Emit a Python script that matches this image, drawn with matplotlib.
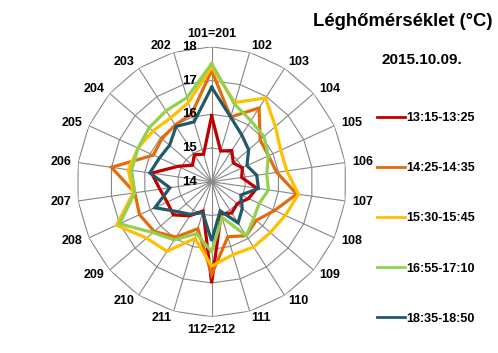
import numpy as np
import matplotlib
matplotlib.use("Agg")
import matplotlib.pyplot as plt
from matplotlib.lines import Line2D

plt.rcParams['font.family'] = ['Liberation Sans', 'DejaVu Sans']
plt.rcParams['font.weight'] = 'bold'

cats = ['101=201', '102', '103', '104', '105', '106', '107', '108', '109', '110', '111',
        '112=212', '211', '210', '209', '208', '207', '206', '205', '204', '203', '202']

labels = ['13:15-13:25', '14:25-14:35', '15:30-15:45', '16:55-17:10', '18:35-18:50']
colors = ['#C00000', '#E46C0A', '#FFC000', '#92D050', '#215968']

red = [15.95, 14.95, 15.1, 14.85, 15.0, 14.9, 15.35, 15.2, 15.0, 15.1, 15.0,
       17.0, 14.9, 15.2, 15.5, 15.45, 15.55, 15.8, 15.1, 14.75, 14.95, 14.85]
orange = [17.3, 16.0, 16.6, 15.9, 15.85, 15.95, 16.55, 16.05, 15.75, 15.9, 15.7,
          16.75, 15.45, 15.95, 16.25, 16.35, 16.3, 17.0, 15.9, 15.95, 16.0, 16.1]
yellow = [17.4, 16.45, 16.95, 16.5, 16.25, 16.25, 16.6, 16.4, 16.3, 16.3, 16.25,
          16.5, 15.75, 16.45, 16.55, 17.1, 16.35, 16.5, 16.4, 16.3, 16.25, 16.45]
green = [17.5, 16.4, 16.15, 16.05, 15.85, 15.65, 15.7, 15.55, 15.65, 15.9, 15.1,
         16.07, 15.6, 16.05, 16.3, 17.0, 16.3, 16.4, 16.4, 16.45, 16.5, 16.6]
blue = [16.8, 16.0, 15.65, 15.45, 15.15, 15.35, 15.4, 14.95, 15.2, 15.45, 14.9,
        15.75, 14.95, 15.15, 15.35, 15.85, 15.25, 15.85, 15.7, 15.65, 15.95, 15.85]
series = [red, orange, yellow, green, blue]

levels = [14, 15, 16, 17, 18]

fig = plt.figure(figsize=(4.98, 3.53), dpi=100)
ax = fig.add_axes([0.154, 0.1026, 0.542, 0.765], projection='polar')
ax.set_theta_zero_location('N')
ax.set_theta_direction(-1)

theta = np.linspace(0, 2 * np.pi, len(cats), endpoint=False)
closed = np.append(theta, theta[0])

# polygon rings
for lv in levels[1:]:
    ax.plot(closed, [lv] * len(closed), color='#878787', lw=0.8, zorder=1)

for vals, c in zip(series, colors):
    ax.plot(closed, vals + vals[:1], color=c, lw=2.3, zorder=3,
            solid_joinstyle='miter')

ax.set_ylim(14, 18)
ax.set_yticks(levels)
ax.set_yticklabels([])
ax.yaxis.grid(False)
ax.xaxis.grid(True, color='#878787', lw=0.8)
ax.spines['polar'].set_visible(False)
ax.set_xticks(theta)
ax.set_xticklabels([])
ax.tick_params(axis='x', length=0)

# category labels, placed like excel: outside the outer ring
for t, name in zip(theta, cats):
    s, c = np.sin(t), np.cos(t)
    if abs(s) < 0.01:
        ha = 'center'
        va = 'bottom' if c > 0 else 'top'
    else:
        ha = 'left' if s > 0 else 'right'
        va = 'center'
    ax.annotate(name, xy=(t, 18), xytext=(7 * s, 7 * c), textcoords='offset pixels',
                ha=ha, va=va, fontsize=9, fontweight='bold', annotation_clip=False)

for lv in levels:
    ax.annotate(str(lv), xy=(0, lv), xytext=(-15, 0), textcoords='offset pixels',
                ha='right', va='center', fontsize=9.5, fontweight='bold', zorder=5)

handles = [Line2D([], [], color=c, lw=2) for c in colors]
fig.legend(handles, labels, loc='upper left', bbox_to_anchor=(0.745, 0.70),
           frameon=False, fontsize=9, labelspacing=3.05, handlelength=2.2,
           handletextpad=0.15, borderpad=0)

fig.text(0.988, 0.938, 'Léghőmérséklet (°C)', ha='right', va='center',
         fontsize=13.3, fontweight='bold')
fig.text(0.848, 0.830, '2015.10.09.', ha='center', va='center',
         fontsize=11, fontweight='bold')

fig.savefig('out.png', dpi=100)
